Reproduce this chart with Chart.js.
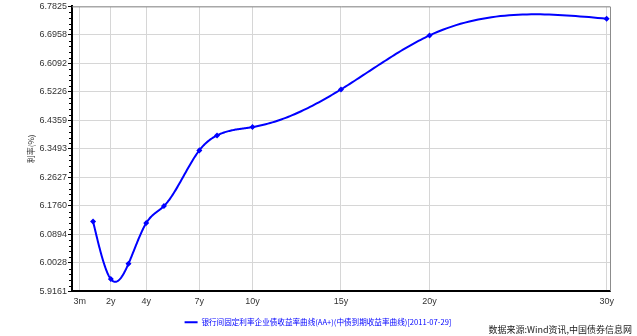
<!DOCTYPE html>
<html>
<head>
<meta charset="utf-8">
<script src="https://cdn.jsdelivr.net/npm/chart.js@4.4.1/dist/chart.umd.min.js"></script>
<style>
  html, body { margin: 0; padding: 0; background: #ffffff; }
  #wrap { position: relative; width: 637px; height: 336px; }
</style>
</head>
<body>
<div id="wrap"><canvas id="c" width="637" height="336"></canvas></div>
<script>
// ---- data ----
const tenorYears = [1, 2, 3, 4, 5, 7, 8, 10, 15, 20, 30];
const yieldValues = [6.1289, 5.9535, 6.0003, 6.1237, 6.1754, 6.3448, 6.3903, 6.4156, 6.5302, 6.6943, 6.7451];
const xTickValues = [0.25, 2, 4, 7, 10, 15, 20, 30];
const xTickLabels = ['3m', '2y', '4y', '7y', '10y', '15y', '20y', '30y'];
const yTickLabels = ['5.9161', '6.0028', '6.0894', '6.1760', '6.2627', '6.3493', '6.4359', '6.5226', '6.6092', '6.6958', '6.7825'];
const yTickValues = yTickLabels.map(Number);
const seriesLabel = '银行间固定利率企业债收益率曲线(AA+)(中债到期收益率曲线)[2011-07-29]';
const yAxisTitle = '利率(%)';
const sourceText = '数据来源:Wind资讯,中国债券信息网';

const points = tenorYears.map((x, i) => ({ x: x, y: yieldValues[i] }));

// natural cubic spline second derivatives (curve style of the source chart)
function splineSecondDerivs(xs, ys) {
  const n = xs.length;
  const m = new Array(n).fill(0);
  const u = new Array(n).fill(0);
  for (let i = 1; i < n - 1; i++) {
    const sig = (xs[i] - xs[i - 1]) / (xs[i + 1] - xs[i - 1]);
    const p = sig * m[i - 1] + 2;
    m[i] = (sig - 1) / p;
    const d = (ys[i + 1] - ys[i]) / (xs[i + 1] - xs[i]) - (ys[i] - ys[i - 1]) / (xs[i] - xs[i - 1]);
    u[i] = (6 * d / (xs[i + 1] - xs[i - 1]) - sig * u[i - 1]) / p;
  }
  m[n - 1] = 0;
  for (let k = n - 2; k >= 0; k--) m[k] = m[k] * m[k + 1] + u[k];
  return m;
}

const splineLinePlugin = {
  id: 'splineLine',
  beforeDatasetsDraw(chart) {
    const ds = chart.data.datasets[0];
    const xs = ds.data.map(p => p.x);
    const ys = ds.data.map(p => p.y);
    const m = splineSecondDerivs(xs, ys);
    const sx = chart.scales.x, sy = chart.scales.y;
    const ctx = chart.ctx;
    ctx.save();
    ctx.strokeStyle = ds.borderColor;
    ctx.lineWidth = ds.borderWidth;
    ctx.lineJoin = 'round';
    ctx.lineCap = 'round';
    ctx.beginPath();
    ctx.moveTo(sx.getPixelForValue(xs[0]), sy.getPixelForValue(ys[0]));
    for (let i = 0; i < xs.length - 1; i++) {
      const h = xs[i + 1] - xs[i];
      const steps = 40;
      for (let s = 1; s <= steps; s++) {
        const b = s / steps, a = 1 - b;
        const v = a * ys[i] + b * ys[i + 1] + ((a * a * a - a) * m[i] + (b * b * b - b) * m[i + 1]) * h * h / 6;
        ctx.lineTo(sx.getPixelForValue(xs[i] + b * h), sy.getPixelForValue(v));
      }
    }
    ctx.stroke();
    ctx.restore();
  }
};

const framePlugin = {
  id: 'frame',
  afterDraw(chart) {
    const ctx = chart.ctx;
    const a = chart.chartArea;
    const y = chart.scales.y;
    ctx.save();
    ctx.strokeStyle = '#8c8c8c';
    ctx.lineWidth = 1;
    ctx.beginPath();
    ctx.moveTo(a.left, a.top + 0.5);
    ctx.lineTo(a.right + 0.5, a.top + 0.5);
    ctx.lineTo(a.right + 0.5, a.bottom);
    ctx.stroke();
    ctx.strokeStyle = '#000000';
    ctx.beginPath();
    for (let i = 0; i < yTickValues.length - 1; i++) {
      const step = (yTickValues[i + 1] - yTickValues[i]) / 5;
      for (let k = 1; k < 5; k++) {
        const py = Math.round(y.getPixelForValue(yTickValues[i] + step * k)) + 0.5;
        ctx.moveTo(a.left - 3, py);
        ctx.lineTo(a.left, py);
      }
    }
    ctx.stroke();
    ctx.fillStyle = '#222222';
    ctx.font = '9px "Noto Sans CJK SC"';
    ctx.textAlign = 'right';
    ctx.textBaseline = 'middle';
    ctx.fillText(sourceText, 632, 330);
    ctx.restore();
  }
};

new Chart(document.getElementById('c'), {
  type: 'line',
  data: {
    datasets: [{
      label: seriesLabel,
      data: points,
      borderColor: '#0000ff',
      backgroundColor: '#0000ff',
      borderWidth: 2,
      showLine: false,
      pointStyle: 'rectRot',
      pointRadius: 1.6,
      pointHoverRadius: 1.6,
      fill: false
    }]
  },
  options: {
    responsive: false,
    animation: false,
    events: [],
    layout: { padding: { top: 6, right: 27, left: 26, bottom: 0 } },
    plugins: {
      tooltip: { enabled: false },
      legend: {
        position: 'bottom',
        align: 'center',
        labels: {
          usePointStyle: true,
          pointStyle: 'line',
          pointStyleWidth: 13,
          boxHeight: 8,
          padding: 6,
          color: '#0000ff',
          font: { family: '"Noto Sans CJK SC"', size: 7.6 }
        }
      }
    },
    scales: {
      x: {
        type: 'linear',
        min: -0.19,
        max: 30.19,
        afterFit(s) { s.height = 21; },
        afterBuildTicks(s) { s.ticks = xTickValues.map(v => ({ value: v })); },
        ticks: {
          autoSkip: false,
          maxRotation: 0,
          padding: 5,
          color: '#333333',
          font: { family: '"Liberation Sans"', size: 9 },
          callback: (v, i) => xTickLabels[i]
        },
        grid: { color: '#d6d6d6', lineWidth: 1, drawTicks: false },
        border: { display: true, color: '#000000', width: 2 }
      },
      y: {
        type: 'linear',
        min: yTickValues[0],
        max: yTickValues[yTickValues.length - 1],
        afterFit(s) { s.width = 46; },
        afterBuildTicks(s) { s.ticks = yTickValues.map(v => ({ value: v })); },
        ticks: {
          autoSkip: false,
          padding: 1,
          color: '#333333',
          font: { family: '"Liberation Sans"', size: 9 },
          callback: (v, i) => yTickLabels[i]
        },
        title: {
          display: true,
          text: yAxisTitle,
          color: '#333333',
          font: { family: '"Noto Sans CJK SC"', size: 8 },
          padding: { top: 0, bottom: 0 }
        },
        grid: { color: '#d6d6d6', lineWidth: 1, tickLength: 4, tickColor: '#000000' },
        border: { display: true, color: '#000000', width: 2 }
      }
    }
  },
  plugins: [splineLinePlugin, framePlugin]
});
</script>
</body>
</html>
